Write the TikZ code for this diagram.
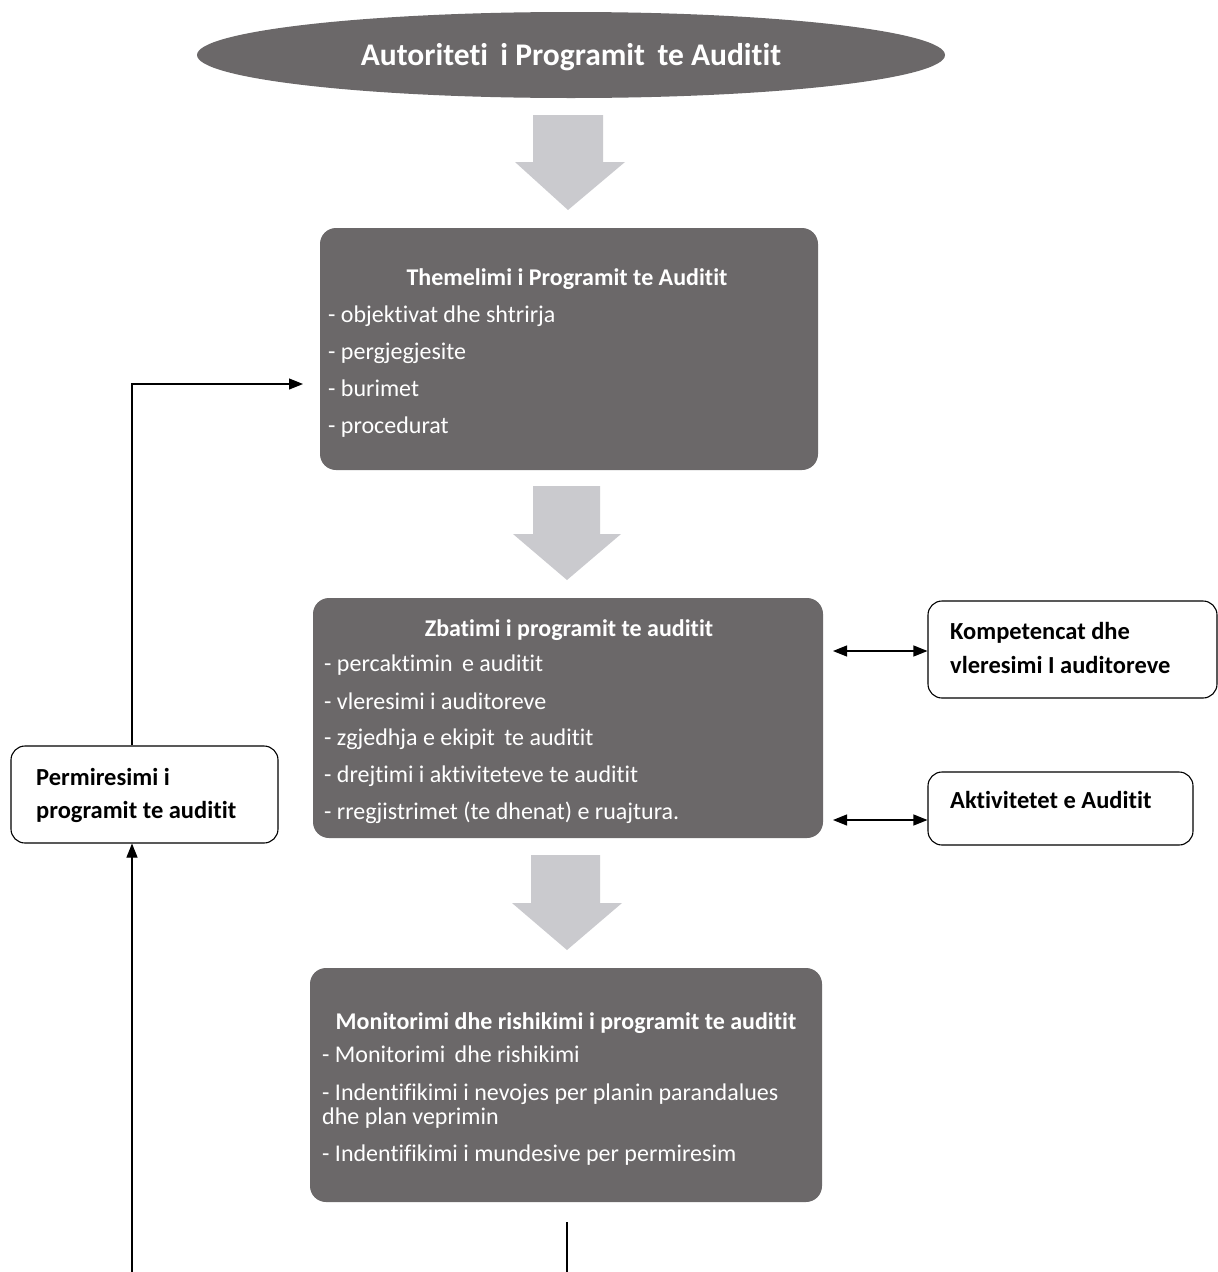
\documentclass[tikz,border=0pt]{standalone}
\usepackage{fontspec}
\setmainfont{Carlito}[Ligatures=NoCommon]
\usetikzlibrary{shapes.geometric,arrows.meta}
\definecolor{boxgray}{HTML}{6B6869}
\definecolor{arrowgray}{HTML}{CACACE}
\tikzset{
  darkbox/.style={draw=none,fill=boxgray,rounded corners=16pt,inner sep=0pt},
  whitebox/.style={draw=black,line width=1.1pt,fill=white,rounded corners=14pt,inner sep=0pt},
  ttl/.style={text=white,font=\fontsize{24}{28}\selectfont\bfseries,anchor=base,inner sep=0pt},
  item/.style={text=white,font=\fontsize{24}{28}\selectfont,anchor=base west,inner sep=0pt},
  sidetxt/.style={text=black,font=\fontsize{24.5}{28}\selectfont\bfseries,anchor=base west,inner sep=0pt},
  conn/.style={line width=1.1pt,draw=black},
  tip/.style={-{Triangle[length=14pt,width=11pt]}},
  dtip/.style={{Triangle[length=14pt,width=11pt]}-{Triangle[length=14pt,width=11pt]}},
  blockarrow/.style={fill=arrowgray,draw=none}
}
\begin{document}
\begin{tikzpicture}[x=1pt,y=-1pt]
\useasboundingbox (0,0) rectangle (1218,1272);
\fill[white] (0,0) rectangle (1218,1272);

% ellipse
\node[ellipse,fill=boxgray,draw=none,minimum width=748pt,minimum height=86pt,inner sep=0pt] (auth) at (571,55) {};
\node[text=white,font=\fontsize{31.5}{36}\selectfont\bfseries,anchor=base,inner sep=0pt] (authT) at (571,65) {Autoriteti\, i Programit\, te Auditit};

% block arrows
\fill[blockarrow] (533,115) -- (603,115) -- (603,162) -- (625,162) -- (568,210) -- (515,162) -- (533,162) -- cycle;
\fill[blockarrow] (533,486) -- (600,486) -- (600,534) -- (621,534) -- (567,580) -- (513,534) -- (533,534) -- cycle;
\fill[blockarrow] (531,855) -- (600,855) -- (600,903) -- (622,903) -- (567,950) -- (512,903) -- (531,903) -- cycle;

% box 1
\node[darkbox,minimum width=498pt,minimum height=242pt] (b1) at (569,349) {};
\node[ttl] (b1t) at (567,285) {Themelimi i Programit te Auditit};
\node[item] (b1a) at (328,322) {- objektivat dhe shtrirja};
\node[item] (b1b) at (328,359) {- pergjegjesite};
\node[item] (b1c) at (328,396) {- burimet};
\node[item] (b1d) at (328,433) {- procedurat};

% box 2
\node[darkbox,minimum width=510pt,minimum height=240pt] (b2) at (568,718) {};
\node[ttl] (b2t) at (569,636) {Zbatimi i programit te auditit};
\node[item] (b2a) at (324,671) {- percaktimin\, e auditit};
\node[item] (b2b) at (324,709) {- vleresimi i auditoreve};
\node[item] (b2c) at (324,745) {- zgjedhja e ekipit\, te auditit};
\node[item] (b2d) at (324,782) {- drejtimi i aktiviteteve te auditit};
\node[item] (b2e) at (324,819) {- rregjistrimet (te dhenat) e ruajtura.};

% box 3
\node[darkbox,minimum width=512pt,minimum height=234pt] (b3) at (566,1085) {};
\node[ttl] (b3t) at (566,1029) {Monitorimi dhe rishikimi i programit te auditit};
\node[item] (b3a) at (322,1062) {- Monitorimi\, dhe rishikimi};
\node[item] (b3b) at (322,1100) {- Indentifikimi i nevojes per planin parandalues};
\node[item] (b3c) at (322,1124) {dhe plan veprimin};
\node[item] (b3d) at (322,1161) {- Indentifikimi i mundesive per permiresim};

% right boxes
\node[whitebox,minimum width=289pt,minimum height=97pt] (kb) at (1072.5,649.5) {};
\node[sidetxt] (kt1) at (950,639) {Kompetencat dhe};
\node[sidetxt] (kt2) at (950,673) {vleresimi I auditoreve};
\node[whitebox,minimum width=265pt,minimum height=73pt] (ab) at (1060.5,808.5) {};
\node[sidetxt] (at1) at (950,808) {Aktivitetet e Auditit};

% left box
\node[whitebox,minimum width=267pt,minimum height=97pt] (pb) at (144.5,794.5) {};
\node[sidetxt] (pt1) at (36,785) {Permiresimi i};
\node[sidetxt] (pt2) at (36,818) {programit te auditit};

% connectors
\draw[conn,dtip] (833,651) -- (kb.west |- 0,651);
\draw[conn,dtip] (833,820) -- (ab.west |- 0,820);
\coordinate (fb1) at (303,384);
\draw[conn,tip] (pb.north -| 132,0) |- (fb1);
\coordinate (bot1) at (132,1272);
\draw[conn,tip] (bot1) -- (pb.south -| 132,0);
\coordinate (bot2a) at (567,1222);
\coordinate (bot2b) at (567,1272);
\draw[conn] (bot2a) -- (bot2b);
\end{tikzpicture}
\end{document}
